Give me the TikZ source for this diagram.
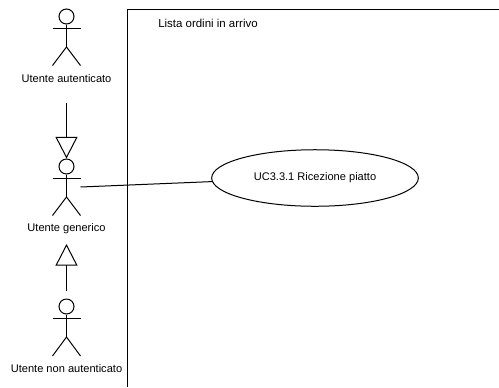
\documentclass[tikz,border=0pt]{standalone}
\usepackage{fontspec}
\setmainfont{Liberation Sans}
\usetikzlibrary{arrows.meta,shapes.geometric}
\begin{document}
\begin{tikzpicture}
[x=0.75pt,y=-0.75pt,font=\fontsize{8.3pt}{10pt}\selectfont,
blackline/.style={black,line width=0.75pt},
genarrow/.style={blackline,-{Triangle[open,length=16.2pt,width=16.5pt]}},
head/.style={circle,draw,black,line width=0.75pt,minimum size=11.25pt,inner sep=0pt},
actorlabel/.style={black,inner sep=0pt},
usecase/.style={ellipse,draw,black,line width=0.75pt,minimum width=155pt,minimum height=42.4pt,inner sep=0pt}]
\useasboundingbox (0,0) rectangle (499,387);

% system boundary
\draw[blackline] (127.5,387) -- (127.5,9.5) -- (499,9.5);
\node[actorlabel,anchor=west,font=\fontsize{8.6pt}{10pt}\selectfont](title) at (158,23){Lista ordini in arrivo};

% Utente autenticato
\node[head](headauth) at (66.5,16.5){};
\draw[blackline] (headauth.south) -- (66.5,47) (52.5,28) -- (80.5,28);
\draw[blackline] (52.5,65.5) -- (66.5,47) -- (80.5,65.5);
\node[actorlabel](labelauth) at (66.5,78.5){Utente autenticato};

% Utente generico
\node[head](headgen) at (66.5,166.5){};
\draw[blackline] (headgen.south) -- (66.5,197) (52.5,178) -- (80.5,178);
\draw[blackline] (52.5,215.5) -- (66.5,197) -- (80.5,215.5);
\node[actorlabel](labelgen) at (66.5,228.5){Utente generico};

% Utente non autenticato
\node[head](headnon) at (66.5,306.5){};
\draw[blackline] (headnon.south) -- (66.5,337) (52.5,318) -- (80.5,318);
\draw[blackline] (52.5,356) -- (66.5,337) -- (80.5,356);
\node[actorlabel](labelnon) at (66.5,368.5){Utente non autenticato};

% generalizations
\coordinate (startauth) at (66.5,102.5);
\draw[genarrow] (startauth) -- (headgen.north);
\coordinate (startnon) at (66.5,290.5);
\coordinate (tipgen) at (66.5,244);
\draw[genarrow] (startnon) -- (tipgen);

% use case
\node[usecase](ricezione) at (315,178){UC3.3.1 Ricezione piatto};
\coordinate (armgen) at (80.5,187);
\draw[blackline] (armgen) -- (ricezione.182);

\end{tikzpicture}
\end{document}
